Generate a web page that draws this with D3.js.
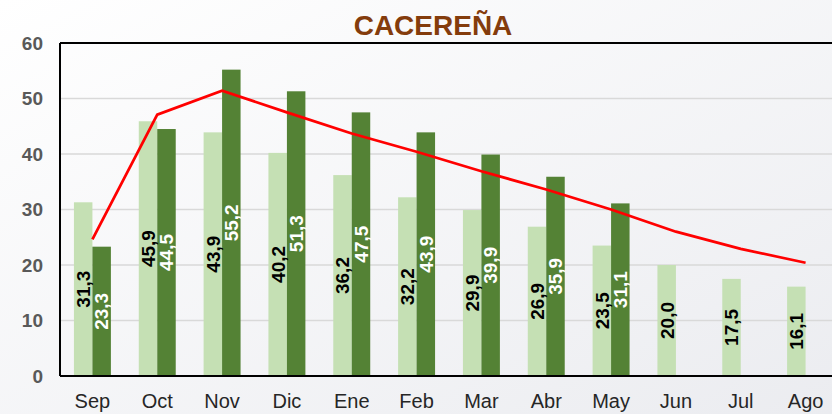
<!DOCTYPE html>
<html>
<head>
<meta charset="utf-8">
<script src="https://cdn.jsdelivr.net/npm/d3@7"></script>
<style>
  body { margin: 0; overflow: hidden; }
  svg { display: block; font-family: Arial, "Liberation Sans", sans-serif; }
</style>
</head>
<body>
<svg class="chart" width="832" height="414"></svg>
<script>
const months = ["Sep", "Oct", "Nov", "Dic", "Ene", "Feb", "Mar", "Abr", "May", "Jun", "Jul", "Ago"];
const lightValues = [31.3, 45.9, 43.9, 40.2, 36.2, 32.2, 29.9, 26.9, 23.5, 20.0, 17.5, 16.1];
const darkValues = [23.3, 44.5, 55.2, 51.3, 47.5, 43.9, 39.9, 35.9, 31.1, null, null, null];
const lineValues = [24.6, 47.1, 51.4, 47.5, 43.7, 40.4, 36.9, 33.6, 30.0, 26.0, 22.9, 20.4];
const yTicks = [0, 10, 20, 30, 40, 50, 60];

const width = 832;
const height = 414;
const plot = { left: 60, right: 838, top: 43, bottom: 376 };

const svg = d3.select("svg.chart");

const grad = svg.append("defs").append("linearGradient")
  .attr("id", "bg")
  .attr("x1", "0%").attr("y1", "0%")
  .attr("x2", "100%").attr("y2", "100%");
grad.append("stop").attr("offset", "0%").attr("stop-color", "#ffffff");
grad.append("stop").attr("offset", "100%").attr("stop-color", "#ebecf0");

svg.append("rect")
  .attr("width", width)
  .attr("height", height)
  .attr("fill", "url(#bg)");

const x = d3.scaleBand()
  .domain(months)
  .range([plot.left, plot.right])
  .paddingInner(0.43)
  .paddingOuter(0.215);

const y = d3.scaleLinear()
  .domain([0, 60])
  .range([plot.bottom, plot.top]);

const barW = x.bandwidth() / 2;
const center = (m) => x(m) + x.bandwidth() / 2;

// grid
svg.append("g")
  .selectAll("line")
  .data(yTicks.filter((t) => t > 0 && t < 60))
  .join("line")
  .attr("x1", plot.left)
  .attr("x2", plot.right)
  .attr("y1", (d) => y(d))
  .attr("y2", (d) => y(d))
  .attr("stroke", "#d9d9d9")
  .attr("stroke-width", 1.5);

// bars
const lightData = months.map((m, i) => ({ m, v: lightValues[i] }));
const darkData = months.map((m, i) => ({ m, v: darkValues[i] })).filter((d) => d.v != null);

svg.append("g")
  .selectAll("rect")
  .data(lightData)
  .join("rect")
  .attr("x", (d) => x(d.m))
  .attr("y", (d) => y(d.v))
  .attr("width", barW)
  .attr("height", (d) => y(0) - y(d.v))
  .attr("fill", "#c5e0b4");

svg.append("g")
  .selectAll("rect")
  .data(darkData)
  .join("rect")
  .attr("x", (d) => x(d.m) + barW)
  .attr("y", (d) => y(d.v))
  .attr("width", barW)
  .attr("height", (d) => y(0) - y(d.v))
  .attr("fill", "#548235");

// red line
const line = d3.line()
  .x((d, i) => center(months[i]))
  .y((d) => y(d));

svg.append("path")
  .datum(lineValues)
  .attr("d", line)
  .attr("fill", "none")
  .attr("stroke", "#ff0000")
  .attr("stroke-width", 2.75);

// bar labels
const fmt = (v) => v.toFixed(1).replace(".", ",");

function addLabels(data, offset, color) {
  svg.append("g")
    .selectAll("text")
    .data(data)
    .join("text")
    .attr("transform", (d) => {
      const cx = x(d.m) + offset + barW / 2;
      const cy = (y(d.v) + y(0)) / 2;
      return `translate(${cx},${cy}) rotate(-90)`;
    })
    .attr("text-anchor", "middle")
    .attr("dy", "0.36em")
    .attr("font-size", 19)
    .attr("font-weight", "bold")
    .attr("fill", color)
    .text((d) => fmt(d.v));
}
addLabels(lightData, 0, "#000000");
addLabels(darkData, barW, "#ffffff");

// frame
svg.append("line")
  .attr("x1", plot.left).attr("x2", plot.right)
  .attr("y1", plot.top).attr("y2", plot.top)
  .attr("stroke", "#000").attr("stroke-width", 2);
svg.append("line")
  .attr("x1", plot.left).attr("x2", plot.left)
  .attr("y1", plot.top).attr("y2", plot.bottom)
  .attr("stroke", "#000").attr("stroke-width", 2);
svg.append("line")
  .attr("x1", plot.left).attr("x2", plot.right)
  .attr("y1", plot.bottom).attr("y2", plot.bottom)
  .attr("stroke", "#000").attr("stroke-width", 2);

// y axis labels
const yAxis = svg.append("g")
  .attr("transform", `translate(${plot.left - 17},0)`)
  .call(d3.axisLeft(y).tickValues(yTicks).tickSize(0).tickPadding(0));
yAxis.select(".domain").remove();
yAxis.selectAll("text")
  .attr("font-size", 19)
  .attr("font-weight", "bold")
  .attr("font-family", "Arial, 'Liberation Sans', sans-serif")
  .attr("fill", "#595959");

// x axis labels
const xAxis = svg.append("g")
  .attr("transform", `translate(0,${plot.bottom})`)
  .call(d3.axisBottom(x).tickSize(0).tickPadding(0));
xAxis.select(".domain").remove();
xAxis.selectAll("text")
  .attr("y", 32)
  .attr("dy", null)
  .attr("font-size", 20)
  .attr("font-family", "Arial, 'Liberation Sans', sans-serif")
  .attr("fill", "#262626");

// title
svg.append("text")
  .attr("x", 433)
  .attr("y", 35)
  .attr("text-anchor", "middle")
  .attr("font-size", 28)
  .attr("font-weight", "bold")
  .attr("fill", "#843c0c")
  .text("CACEREÑA");
</script>
</body>
</html>
